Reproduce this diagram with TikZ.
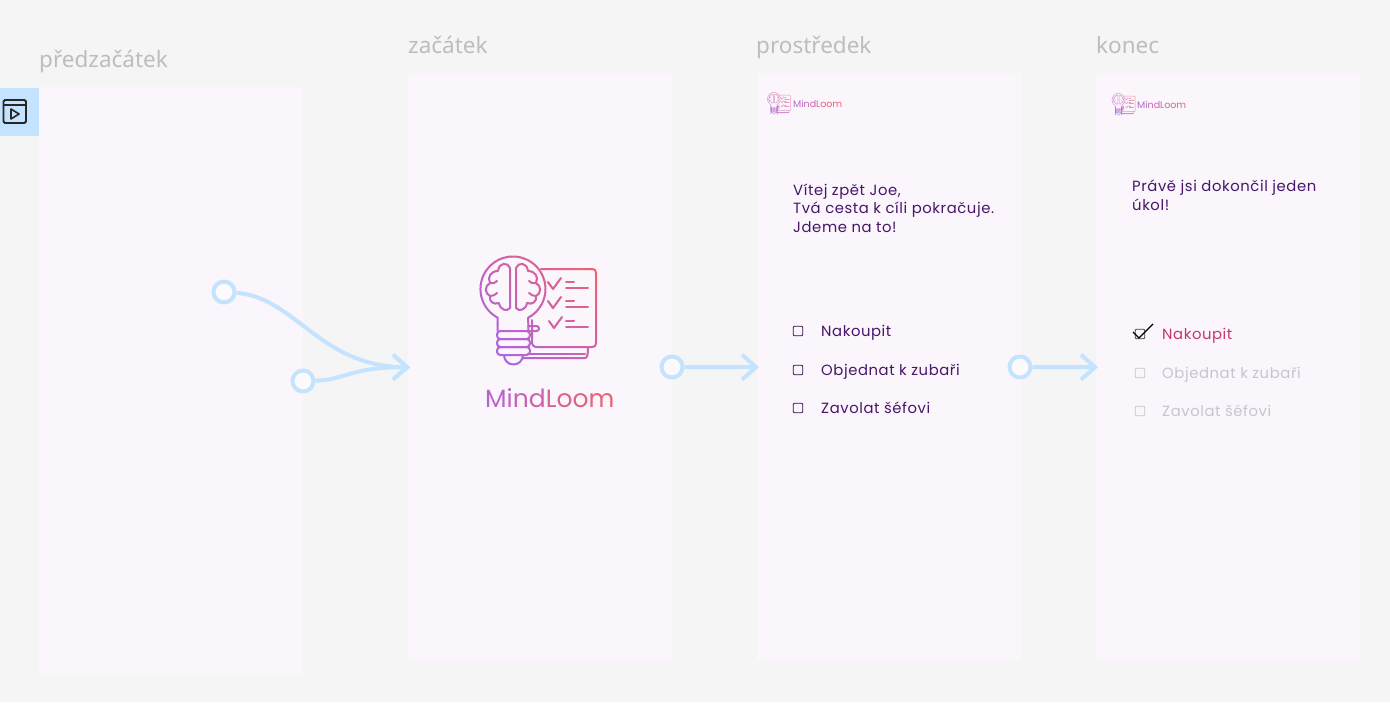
\documentclass[tikz,border=0pt]{standalone}
\usepackage{fontspec}
\setmainfont{Noto Sans}
\newfontfamily\itemfont[LetterSpace=4]{Poppins}
\usetikzlibrary{arrows.meta}

\definecolor{pagebg}{HTML}{F5F5F5}
\definecolor{panelbg}{HTML}{FAF6FC}
\definecolor{flowblue}{HTML}{C4E3FF}
\definecolor{headgray}{HTML}{BDBDBD}
\definecolor{inkpurple}{HTML}{47156A}
\definecolor{donepink}{HTML}{C8336F}
\definecolor{fadegray}{HTML}{C9C5CC}
\definecolor{logoA}{HTML}{A066F5}
\definecolor{logoB}{HTML}{F2606A}

\tikzset{
  panel/.style={fill=panelbg, minimum width=264pt, inner sep=0pt, anchor=north west},
  header/.style={text=headgray, font=\fontsize{22.5}{26}\selectfont, anchor=base west, inner sep=0pt},
  flowdot/.style={circle, draw=flowblue, fill=panelbg!60!white, line width=4pt, minimum size=21pt, inner sep=0pt},
  flow/.style={draw=flowblue, line width=4pt, shorten >=-2pt, -{Straight Barb[length=14pt,width=25pt]}},
  itemtext/.style={font=\itemfont\fontsize{14.8}{18}\selectfont, anchor=base west, inner sep=0pt, align=left},
  tickbox/.style={draw, rounded corners=1pt, line width=.9pt, minimum size=9.5pt, inner sep=0pt},
  logoname/.style={anchor=base west, inner sep=0pt},
  pics/logo/.style={code={
    % gradient stroke made from slanted strips
    \foreach \k in {0,...,21}{
      \pgfmathsetmacro\u{-110+10*\k}
      \pgfmathsetmacro\pct{int(100*\k/21)}
      \colorlet{stripcol}{logoB!\pct!logoA}
      \begin{scope}
        \clip (\u-40,-40) -- (\u+10.3-40,-40) -- (\u+10.3+80,80) -- (\u+80,80) -- cycle;
        \logoshape{#1}
      \end{scope}
    }
  }}
}

% lamp, brain and checklist, origin in the middle of the bulb
\newcommand\logoshape[1]{
  \begin{scope}[draw=stripcol, line width=#1, line cap=round, line join=round]
    % bulb
    \draw (-15.3,42) -- (-15.3,28.7) arc[start angle=118, end angle=422, radius=32.5] -- (15.3,42);
    % screw thread and foot
    \draw[rounded corners=3.5pt] (-16,42) rectangle (17,50);
    \draw[rounded corners=3.5pt] (-16,50) rectangle (17,58);
    \draw[rounded corners=3.5pt] (-16,58) rectangle (17,66);
    \draw (-9,66) arc[start angle=180, end angle=0, radius=9.5];
    % brain lobes
    \foreach \s in {1,-1}{
      \draw[xscale=\s] (-3,-21) .. controls (-5,-27) and (-14,-27) .. (-15,-18)
        .. controls (-22,-18) and (-26,-12) .. (-23,-6)
        .. controls (-29,-3) and (-28,5) .. (-23,7)
        .. controls (-24,13) and (-19,16) .. (-14,14)
        .. controls (-13,21) and (-6,23) .. (-3,19) -- cycle;
      \draw[xscale=\s] (-23,-6) .. controls (-20,-5) and (-18,-6) .. (-16,-8);
      \draw[xscale=\s] (-23,7) .. controls (-20,7) and (-18,6) .. (-16,4);
    }
    % checklist page
    \draw (28,-20) -- (79,-20) .. controls (82,-20) and (83,-19) .. (83,-16)
      -- (83,54) .. controls (83,57) and (82,58) .. (79,58)
      -- (24,58) .. controls (20,58) and (19,56) .. (19,52) -- (19,31);
    \draw[rounded corners=2.5pt] (15,37) -- (26,37) -- (26,42) -- (15,42);
    \draw (10,69) -- (72,69) .. controls (74,69) and (75,66) .. (75,59);
    \draw (15,65) -- (72,65);
    % ticks and lines
    \foreach \y/\dx in {0/0,19/0,39/1}{
      \draw[yshift=-\y*1pt, xshift=\dx*1pt] (35,-7) -- (40,0) -- (48,-11);
      \draw[yshift=-\y*1pt] (53,-7) -- (61,-7);
      \draw[yshift=-\y*1pt] (53,-1) -- (75,-1);
    }
  \end{scope}
}

% name of the product, one colour per letter
\newcommand\logotext{{\color{logoB!30!logoA}M}{\color{logoB!38!logoA}i}{\color{logoB!46!logoA}n}{\color{logoB!54!logoA}d}{\color{logoB!62!logoA}L}{\color{logoB!72!logoA}o}{\color{logoB!82!logoA}o}{\color{logoB!90!logoA}m}}

\begin{document}
\begin{tikzpicture}[x=1pt, y=-1pt]
    \useasboundingbox[fill=pagebg] (0,0) rectangle (1390,702);

    % Panels of the four steps
    \node[panel, minimum height=589pt] (panelPre) at (39,87) {};
    \node[panel, minimum height=588pt] (panelStart) at (408,73) {};
    \node[panel, minimum height=588pt] (panelMiddle) at (757,73) {};
    \node[panel, minimum height=588pt] (panelEnd) at (1096,73) {};

    \node[header] (headPre) at (39,67) {předzačátek};
    \node[header] (headStart) at (408,53) {začátek};
    \node[header] (headMiddle) at (756,53) {prostředek};
    \node[header] (headEnd) at (1096,53) {konec};

    % Video tab
    \node[fill=flowblue, minimum width=39pt, minimum height=48pt, inner sep=0pt, anchor=north west] (videoTab) at (0,88) {};
    \draw[line width=1.8pt, rounded corners=1.5pt, draw=black!85] (3.5,100) rectangle (26,123);
    \draw[line width=1.8pt, draw=black!85] (3.5,105) -- (26,105);
    \draw[line width=1.6pt, draw=black!85, line join=round] (11,109) -- (19,114) -- (11,119) -- cycle;

    % Flow connectors
    \node[flowdot] (dotA) at (224,292) {};
    \node[flowdot] (dotB) at (303,381) {};
    \node[flowdot] (dotC) at (672,367) {};
    \node[flowdot] (dotD) at (1020,367) {};
    \draw[flow] (dotA) .. controls (295,297) and (320,367) .. (panelStart.west);
    \draw[flow] (dotB) .. controls (345,380) and (350,367) .. (panelStart.west);
    \draw[flow] (dotC) -- (panelMiddle.west);
    \draw[flow] (dotD) -- (panelEnd.west);

    % Big logo
    \pic at (513,289) {logo=2pt};
    \node[logoname, font=\itemfont\fontsize{25}{30}\selectfont\addfontfeature{LetterSpace=6}] (nameBig) at (485,407) {\logotext};

    % Middle step
    \pic[scale=.2, opacity=.6] at (774,99) {logo=.5pt};
    \node[logoname, font=\itemfont\fontsize{9.5}{12}\selectfont] (nameMiddle) at (793,107.5) {\logotext};
    \node[itemtext, text=inkpurple] (greet) at (793,232) {Vítej zpět Joe,\\[.5pt]Tvá cesta k cíli pokračuje.\\[.5pt]Jdeme na to!};
    \node[tickbox, draw=inkpurple!70!black] (boxA) at (798,331) {};
    \node[tickbox, draw=inkpurple!70!black] (boxB) at (798,370) {};
    \node[tickbox, draw=inkpurple!70!black] (boxC) at (798,408) {};
    \node[itemtext, text=inkpurple] (itemA) at (821,336) {Nakoupit};
    \node[itemtext, text=inkpurple] (itemB) at (821,375) {Objednat k zubaři};
    \node[itemtext, text=inkpurple] (itemC) at (821,413) {Zavolat šéfovi};

    % Last step
    \pic[scale=.2, opacity=.6] at (1118.5,100) {logo=.5pt};
    \node[logoname, font=\itemfont\fontsize{9.5}{12}\selectfont] (nameEnd) at (1137,108.5) {\logotext};
    \node[itemtext, text=inkpurple] (doneText) at (1132,210) {Právě jsi dokončil jeden\\[.5pt]úkol!};
    \node[tickbox, draw=black!75] (boxD) at (1140,334) {};
    \node[tickbox, draw=fadegray] (boxE) at (1140,373) {};
    \node[tickbox, draw=fadegray] (boxF) at (1140,411) {};
    \draw[line width=1.1pt] (1133,332) -- (1139,338) -- (1153,324);
    \node[itemtext, text=donepink] (itemD) at (1162,339.5) {Nakoupit};
    \node[itemtext, text=fadegray] (itemE) at (1162,378) {Objednat k zubaři};
    \node[itemtext, text=fadegray] (itemF) at (1162,416.5) {Zavolat šéfovi};
\end{tikzpicture}
\end{document}
